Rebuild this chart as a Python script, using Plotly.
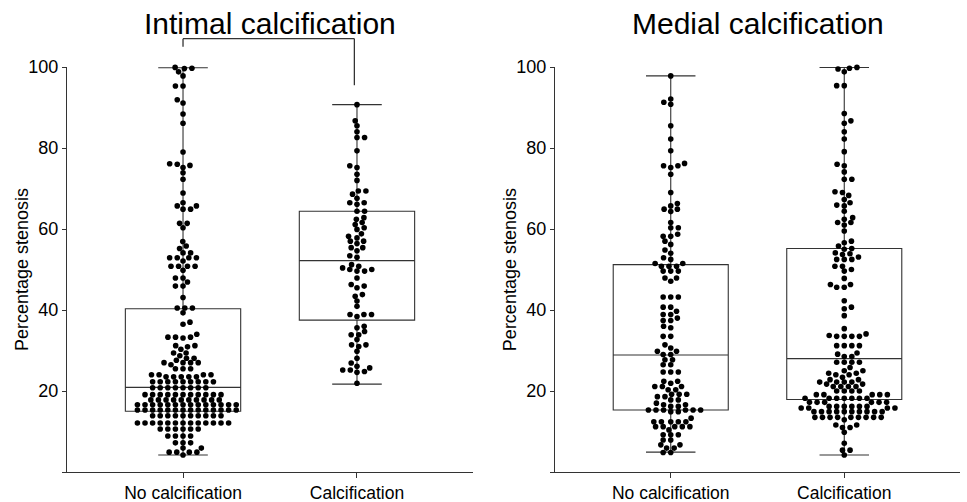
import plotly.graph_objects as go

# ---------------- data ----------------
categories = ["No calcification", "Calcification"]
panel_titles = ["Intimal calcification", "Medial calcification"]
y_title = "Percentage stenosis"
y_ticks = [0, 20, 40, 60, 80, 100]
y_ticktext = ["", "20", "40", "60", "80", "100"]

# box statistics [No calcification, Calcification]
intimal_lower = [4.2, 21.7]
intimal_q1 = [15.0, 37.5]
intimal_median = [20.9, 52.2]
intimal_q3 = [40.3, 64.4]
intimal_upper = [99.8, 90.7]

medial_lower = [4.9, 4.2]
medial_q1 = [15.3, 17.9]
medial_median = [28.9, 28.0]
medial_q3 = [51.2, 55.2]
medial_upper = [97.8, 99.9]

intimal_none = [
    99.9, 99.7, 99.6, 98.8, 97.8, 95.3, 95.3, 91.9, 91.1, 88.4, 86.1, 79.0,
    76.1, 76.0, 75.7, 75.2, 73.9, 72.3, 68.9, 66.5, 65.7, 65.7, 64.9, 64.9,
    61.4, 61.4, 60.3, 56.9, 55.8, 55.2, 54.1, 54.1, 52.9, 52.9, 52.9, 52.9,
    52.1, 50.8, 50.8, 50.8, 50.8, 49.8, 47.9, 47.9, 46.9, 45.9, 45.9,
    43.1, 40.5, 40.5, 40.5, 39.3, 37.0, 36.5, 34.0, 33.3, 33.3, 33.3, 33.1,
    31.2, 31.2, 30.9, 30.3, 29.4, 29.4, 28.7, 28.1, 28.1, 27.6, 27.0, 27.0,
    27.0, 27.0, 26.5, 25.5, 25.5, 25.5, 24.0, 24.0, 24.0, 24.0,
    23.5, 23.5, 23.5, 23.5, 23.5,
    22.3, 22.3, 22.3, 22.3, 22.3, 22.3, 22.3, 22.3, 22.3,
    20.8, 20.8, 20.8, 20.8, 20.8, 20.8, 20.8, 20.8,
    19.1, 19.1, 19.1, 19.1, 19.1, 19.1, 19.1, 19.1, 19.1, 19.1, 19.1,
    17.8, 17.8, 17.8, 17.8, 17.8, 17.8, 17.8, 17.8, 17.8, 17.8,
    16.6, 16.6, 16.6, 16.6, 16.6, 16.6, 16.6, 16.6, 16.6, 16.6, 16.6, 16.6, 16.6, 16.6,
    15.3, 15.3, 15.3, 15.3, 15.3, 15.3, 15.3, 15.3, 15.3, 15.3, 15.3, 15.3, 15.3, 15.3,
    13.9, 13.9, 13.9, 13.9, 13.9, 13.9, 13.9, 13.9, 13.9, 13.9,
    12.1, 12.1, 12.1, 12.1, 12.1, 12.1, 12.1, 12.1, 12.1, 12.1, 12.1, 12.1, 12.1,
    10.6, 10.6, 10.6, 10.6, 10.6, 10.6,
    8.9, 8.9, 8.9, 8.9, 7.2, 7.2, 7.2, 5.9, 5.9, 4.9, 4.9, 4.9, 4.9, 4.2,
]

intimal_calc = [
    90.7, 86.7, 85.5, 84.0, 82.6, 82.6, 79.3, 75.6, 75.2, 73.5, 72.0, 69.4,
    69.4, 68.6, 67.6, 66.5, 66.5, 66.1, 64.4, 64.4, 62.8, 62.4, 61.6, 61.1,
    60.3, 59.9, 58.8, 58.2, 57.8, 57.0, 57.0, 56.4, 55.4, 55.4, 54.6, 53.4,
    53.0, 51.2, 50.8, 50.4, 50.0, 50.0, 49.6, 49.6, 47.9, 46.3, 45.9, 45.5,
    43.8, 43.4, 42.2, 40.9, 38.9, 38.9, 38.9, 38.4, 36.0, 35.6, 34.7, 33.9,
    33.9, 32.7, 31.4, 31.4, 31.0, 29.8, 28.1, 26.9, 26.1, 25.7, 25.2, 25.2,
    24.8, 24.6, 21.9,
]

medial_none = [
    97.8, 92.1, 91.3, 90.8, 85.5, 82.2, 79.3, 76.2, 75.6, 75.6, 75.2, 73.5,
    69.0, 66.3, 65.7, 64.9, 64.9, 64.3, 61.6, 60.3, 60.3, 58.7, 58.2, 58.2,
    57.0, 56.2, 54.8, 54.0, 52.9, 52.5, 51.5, 51.5, 50.8, 50.8, 50.8, 49.6,
    49.6, 49.6, 47.9, 47.9, 47.1,
    43.2, 43.2, 43.2, 40.7, 40.7, 39.7, 38.9, 38.9, 38.0, 37.4, 37.4, 36.0,
    35.6, 33.5, 33.5, 31.4, 30.6, 29.8, 29.8, 29.0, 29.0, 27.7, 27.7, 26.5,
    26.5, 24.7, 24.7, 24.7, 22.4, 22.4, 21.9, 21.1, 21.1, 21.1, 20.3, 20.3,
    19.2, 19.2, 19.2, 18.6, 18.6, 17.8, 17.8, 17.0, 16.6, 16.6, 16.2, 16.2,
    15.3, 15.3, 15.3, 15.3, 15.3, 15.3, 14.9, 14.9, 13.3,
    12.4, 12.4, 12.4, 12.4, 12.4, 11.2, 11.2, 11.2, 11.2, 11.2, 10.4,
    9.2, 9.2, 9.2, 7.9, 7.9, 6.7, 6.7, 5.9, 5.9, 4.8, 4.8,
]

medial_calc = [
    99.9, 99.7, 99.5, 98.8, 95.4, 95.4, 88.5, 86.7, 86.1, 84.0, 82.2, 79.1,
    76.0, 75.6, 74.1, 72.3, 72.3, 69.2, 69.0, 68.3, 67.3, 66.5, 65.9, 65.7,
    64.4, 62.8, 62.4, 61.6, 61.6, 61.0, 59.5, 57.0, 56.6, 55.8, 55.2, 55.0,
    54.1, 53.9, 53.7, 53.1, 52.5, 52.5, 52.5, 50.8, 50.8, 50.0, 49.6, 47.8,
    46.3, 46.3, 45.6, 45.6, 42.3, 40.7, 40.3, 38.6, 35.4, 34.1, 33.7, 33.5,
    33.5, 33.5, 33.5, 31.2, 31.2, 31.2, 31.2, 29.4, 29.1, 28.5, 28.5, 27.1,
    27.1, 27.1, 27.1, 25.8, 25.0, 25.0, 24.4, 24.4, 24.0, 24.0, 23.4, 22.8,
    22.8, 22.2, 22.2, 22.2, 22.2, 21.7, 21.7, 21.1, 21.1, 21.1, 21.1, 20.0,
    20.0, 20.0, 20.0, 19.1, 19.1, 19.1, 19.1, 19.1,
    18.2, 18.2, 18.2, 18.2, 18.2, 18.2, 18.2,
    17.2, 17.2, 17.2, 17.2, 17.2, 17.2,
    16.2, 16.2, 16.2, 16.2, 16.2, 16.2, 15.8, 15.8, 15.8, 15.8,
    14.9, 14.9, 14.9, 14.9, 14.9, 14.9, 14.9, 14.9, 14.9, 14.9,
    13.5, 13.5, 13.5, 13.5, 13.5, 13.5, 13.5, 13.5, 13.5, 12.9,
    11.6, 11.6, 11.0, 11.0, 9.8, 7.1, 5.4, 5.4, 4.2,
]

# ---------------- layout constants ----------------
W, H = 967, 502
ML, MR, MT, MB = 67, 7, 67, 30
PLOT_W = W - ML - MR
PLOT_H = H - MT - MB
X_RANGE = [-0.667, 1.667]
Y_RANGE = [0, 100]
DOM1 = [0, 406 / PLOT_W]
DOM2 = [488 / PLOT_W, 1]
PX_PER_Y = PLOT_H / (Y_RANGE[1] - Y_RANGE[0])
PX_PER_X = 406 / (X_RANGE[1] - X_RANGE[0])
LINE = "#333333"
FONT = "Arial, Liberation Sans, sans-serif"


def swarm(vals, dx_min=7.6, dy_min=5.0):
    """Beeswarm offsets (x data units); elliptical no-overlap rule, rows spread sideways."""
    placed = []
    xs, ys = [], []
    for i, v in enumerate(sorted(vals)):
        y = v * PX_PER_Y
        near = [(px, py) for px, py in placed if abs(py - y) < dy_min]
        cands = [0.0]
        for px, py in near:
            dx = dx_min * (1 - ((py - y) / dy_min) ** 2) ** 0.5
            cands += [px - dx, px + dx]
        sign = 1 if i % 2 else -1
        cands.sort(key=lambda c: (round(abs(c), 2), sign * c))
        chosen = 0.0
        for c in cands:
            if all(((c - px) / dx_min) ** 2 + ((y - py) / dy_min) ** 2 >= 1 - 1e-6
                   for px, py in near):
                chosen = c
                break
        placed.append((chosen, y))
        xs.append(chosen / PX_PER_X)
        ys.append(v)
    return xs, ys


fig = go.Figure()

panels = [
    ("x", "y", [intimal_none, intimal_calc],
     intimal_lower, intimal_q1, intimal_median, intimal_q3, intimal_upper),
    ("x2", "y2", [medial_none, medial_calc],
     medial_lower, medial_q1, medial_median, medial_q3, medial_upper),
]

for xa, ya, groups, lo, q1, med, q3, up in panels:
    fig.add_trace(go.Box(
        x=[0, 1], q1=q1, median=med, q3=q3, lowerfence=lo, upperfence=up,
        orientation="v", width=0.663, whiskerwidth=0.43,
        fillcolor="rgba(0,0,0,0)", line=dict(color=LINE, width=1.1),
        boxpoints=False, xaxis=xa, yaxis=ya, showlegend=False, hoverinfo="skip",
    ))
    for gi, vals in enumerate(groups):
        offs, ys = swarm(vals)
        fig.add_trace(go.Scatter(
            x=[gi + o for o in offs], y=ys, mode="markers",
            marker=dict(color="black", size=5.6),
            xaxis=xa, yaxis=ya, showlegend=False, cliponaxis=False,
        ))

axis_common = dict(
    showline=True, linecolor=LINE, linewidth=1.3, ticks="outside",
    tickcolor=LINE, tickwidth=1.3, showgrid=False, zeroline=False,
    automargin=False,
)
y_tickfont = dict(family=FONT, size=18, color="black")
x_tickfont = dict(family=FONT, size=17.5, color="black")

fig.update_layout(
    width=W, height=H,
    margin=dict(l=ML, r=MR, t=MT, b=MB),
    paper_bgcolor="white", plot_bgcolor="white",
    font=dict(family=FONT, color="black"),
    xaxis=dict(domain=DOM1, range=X_RANGE, tickvals=[0, 1], ticktext=categories,
               ticklen=5, anchor="y", tickfont=x_tickfont, **axis_common),
    xaxis2=dict(domain=DOM2, range=X_RANGE, tickvals=[0, 1], ticktext=categories,
                ticklen=5, anchor="y2", tickfont=x_tickfont, **axis_common),
    yaxis=dict(domain=[0, 1], range=Y_RANGE, tickvals=y_ticks, ticktext=y_ticktext,
               ticklen=4, anchor="x", tickfont=y_tickfont, **axis_common),
    yaxis2=dict(domain=[0, 1], range=Y_RANGE, tickvals=y_ticks, ticktext=y_ticktext,
                ticklen=4, anchor="x2", tickfont=y_tickfont, **axis_common),
)

# panel titles and y-axis titles
for xd, title in zip(["x domain", "x2 domain"], panel_titles):
    fig.add_annotation(xref=xd, yref="paper", x=0.5, y=1 + 43 / PLOT_H,
                       text=title, showarrow=False, yanchor="middle",
                       font=dict(family=FONT, size=30, color="black"))
    fig.add_annotation(xref=xd, yref="paper", x=-0.112, y=0.5,
                       text=y_title, textangle=-90, showarrow=False,
                       xanchor="center", yanchor="middle",
                       font=dict(family=FONT, size=18, color="black"))

# significance bracket (Intimal panel)
bracket_x = [0, 0.985]
bracket_top, bracket_left_end, bracket_right_end = 1.07, 1.05, 0.955
br = dict(type="line", xref="x", yref="y domain", line=dict(color=LINE, width=1.3))
fig.add_shape(x0=bracket_x[0], x1=bracket_x[0], y0=bracket_left_end, y1=bracket_top, **br)
fig.add_shape(x0=bracket_x[0], x1=bracket_x[1], y0=bracket_top, y1=bracket_top, **br)
fig.add_shape(x0=bracket_x[1], x1=bracket_x[1], y0=bracket_top, y1=bracket_right_end, **br)

# the page's default 8px body margin would push the 967x502 figure off the window
fig.write_html("out.html", config={"displayModeBar": False},
               post_script="document.body.style.margin='0px';document.body.style.overflow='hidden';")
